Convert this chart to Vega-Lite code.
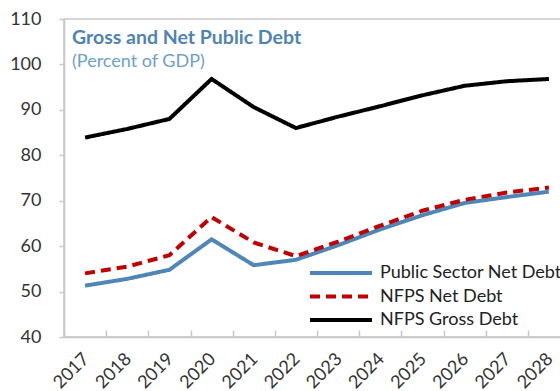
{
  "$schema": "https://vega.github.io/schema/vega-lite/v6.json",
  "autosize": "none",
  "width": 506,
  "height": 318,
  "padding": {"left": 64, "top": 19, "right": 0, "bottom": 54},
  "background": "white",
  "config": {
    "font": "Lato",
    "view": {"stroke": "#c8c8c8", "strokeWidth": 1.5},
    "axis": {"labelFont": "Lato", "labelFontSize": 18, "labelColor": "#333333", "domainColor": "#c8c8c8", "tickColor": "#c8c8c8", "domainWidth": 1.5, "tickWidth": 1.5, "grid": false, "title": null}
  },
  "title": {
    "text": "Gross and Net Public Debt",
    "subtitle": "(Percent of GDP)",
    "anchor": "start",
    "orient": "top",
    "frame": "group",
    "offset": -62,
    "dx": 8,
    "font": "Lato",
    "fontSize": 19.5,
    "fontWeight": "bold",
    "color": "#4f83b3",
    "subtitleFont": "Lato",
    "subtitleFontSize": 18,
    "subtitleColor": "#6d9fcb",
    "subtitlePadding": 5
  },
  "data": {
    "values": [
      {"year": "2017", "series": "Public Sector Net Debt", "value": 51.3},
      {"year": "2018", "series": "Public Sector Net Debt", "value": 52.8},
      {"year": "2019", "series": "Public Sector Net Debt", "value": 54.8},
      {"year": "2020", "series": "Public Sector Net Debt", "value": 61.5},
      {"year": "2021", "series": "Public Sector Net Debt", "value": 55.8},
      {"year": "2022", "series": "Public Sector Net Debt", "value": 57.0},
      {"year": "2023", "series": "Public Sector Net Debt", "value": 60.2},
      {"year": "2024", "series": "Public Sector Net Debt", "value": 63.7},
      {"year": "2025", "series": "Public Sector Net Debt", "value": 66.8},
      {"year": "2026", "series": "Public Sector Net Debt", "value": 69.5},
      {"year": "2027", "series": "Public Sector Net Debt", "value": 70.8},
      {"year": "2028", "series": "Public Sector Net Debt", "value": 72.0},
      {"year": "2017", "series": "NFPS Net Debt", "value": 54.0},
      {"year": "2018", "series": "NFPS Net Debt", "value": 55.5},
      {"year": "2019", "series": "NFPS Net Debt", "value": 58.0},
      {"year": "2020", "series": "NFPS Net Debt", "value": 66.4},
      {"year": "2021", "series": "NFPS Net Debt", "value": 60.8},
      {"year": "2022", "series": "NFPS Net Debt", "value": 57.8},
      {"year": "2023", "series": "NFPS Net Debt", "value": 61.0},
      {"year": "2024", "series": "NFPS Net Debt", "value": 64.5},
      {"year": "2025", "series": "NFPS Net Debt", "value": 67.8},
      {"year": "2026", "series": "NFPS Net Debt", "value": 70.2},
      {"year": "2027", "series": "NFPS Net Debt", "value": 71.8},
      {"year": "2028", "series": "NFPS Net Debt", "value": 72.9},
      {"year": "2017", "series": "NFPS Gross Debt", "value": 83.9},
      {"year": "2018", "series": "NFPS Gross Debt", "value": 85.8},
      {"year": "2019", "series": "NFPS Gross Debt", "value": 88.0},
      {"year": "2020", "series": "NFPS Gross Debt", "value": 96.8},
      {"year": "2021", "series": "NFPS Gross Debt", "value": 90.6},
      {"year": "2022", "series": "NFPS Gross Debt", "value": 86.0},
      {"year": "2023", "series": "NFPS Gross Debt", "value": 88.5},
      {"year": "2024", "series": "NFPS Gross Debt", "value": 90.8},
      {"year": "2025", "series": "NFPS Gross Debt", "value": 93.2},
      {"year": "2026", "series": "NFPS Gross Debt", "value": 95.3},
      {"year": "2027", "series": "NFPS Gross Debt", "value": 96.3},
      {"year": "2028", "series": "NFPS Gross Debt", "value": 96.8}
    ]
  },
  "mark": {"type": "line", "strokeWidth": 4, "strokeCap": "butt"},
  "encoding": {
    "x": {
      "field": "year",
      "type": "ordinal",
      "scale": {"type": "band", "paddingInner": 0, "paddingOuter": 0},
      "axis": {"labelAngle": -45, "labelAlign": "right", "labelBaseline": "middle", "tickBand": "extent", "tickSize": -7, "labelPadding": 26, "labelOffset": 1}
    },
    "y": {
      "field": "value",
      "type": "quantitative",
      "scale": {"domain": [40, 110], "nice": false},
      "axis": {"values": [40, 50, 60, 70, 80, 90, 100, 110], "tickSize": 5, "labelPadding": 18}
    },
    "color": {
      "field": "series",
      "type": "nominal",
      "scale": {"domain": ["Public Sector Net Debt", "NFPS Net Debt", "NFPS Gross Debt"], "range": ["#4f86b8", "#c00000", "#000000"]},
      "legend": {
        "title": null,
        "orient": "none",
        "legendX": 244,
        "legendY": 244,
        "symbolType": "stroke",
        "symbolSize": 3844,
        "symbolStrokeWidth": 4,
        "clipHeight": 20,
        "labelFont": "Lato",
        "labelFontSize": 18,
        "labelColor": "#222222",
        "labelOffset": 6,
        "labelLimit": 400,
        "rowPadding": 3.5
      }
    },
    "strokeDash": {
      "field": "series",
      "type": "nominal",
      "scale": {"domain": ["Public Sector Net Debt", "NFPS Net Debt", "NFPS Gross Debt"], "range": [[1, 0], [10, 6], [1, 0]]},
      "legend": null
    }
  }
}
